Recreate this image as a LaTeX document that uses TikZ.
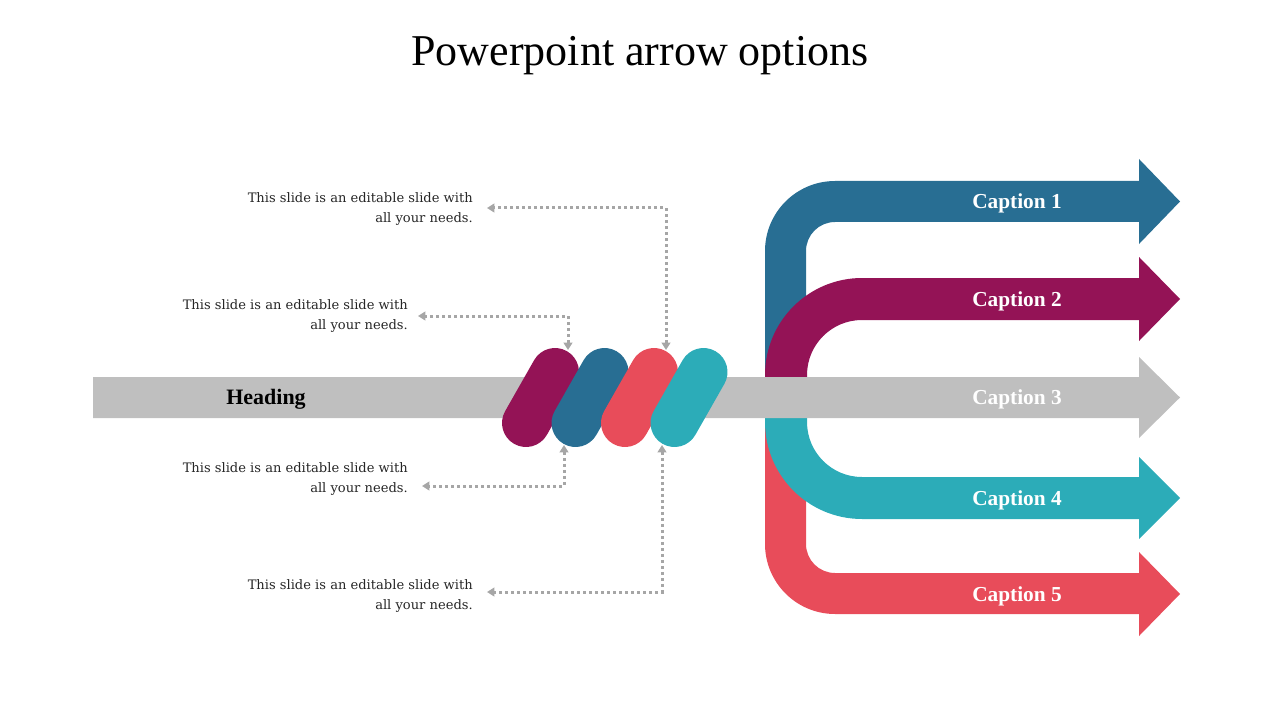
\documentclass[tikz,border=0pt]{standalone}
\usepackage{fontspec}
\setmainfont{Liberation Serif}
\newfontfamily\bodyfont{DejaVu Serif}
\usetikzlibrary{arrows.meta}
\definecolor{cblue}{HTML}{286E93}
\definecolor{cmag}{HTML}{941356}
\definecolor{cred}{HTML}{E84C5A}
\definecolor{cteal}{HTML}{2CACB8}
\definecolor{cgray}{HTML}{BFBFBF}
\definecolor{cdot}{HTML}{A6A6A6}
\begin{document}
\begin{tikzpicture}[x=0.75pt,y=-0.75pt,
  pill/.style={line width=36pt,line cap=round},
  conn/.style={cdot,line width=2.25pt,dash pattern=on 2.25pt off 2.25pt,
    {Triangle[length=5.5pt,width=6.5pt]}-{Triangle[length=5.5pt,width=6.5pt]}},
  body/.style={anchor=east,align=right,inner sep=0pt,text=black!85,
    font=\bodyfont\fontsize{9.8}{15}\selectfont},
  captxt/.style={text=white,font=\bfseries\fontsize{16}{18}\selectfont},
]
\useasboundingbox (0,0) rectangle (1280,720);

% title
\node[anchor=base,font=\fontsize{33}{36}\selectfont] (title) at (640,66) {Powerpoint arrow options};

% caption 1 (blue)
\fill[cblue] (765,400) -- (765,251) arc[start angle=180,end angle=270,radius=70]
  -- (1139,181) -- (1139,159) -- (1180,201.5) -- (1139,244) -- (1139,222)
  -- (835,222) arc[start angle=270,end angle=180,radius=29] -- (806,400) -- cycle;
% caption 5 (red)
\fill[cred] (765,400) -- (765,544) arc[start angle=180,end angle=90,radius=70]
  -- (1139,614) -- (1139,636) -- (1180,594) -- (1139,552) -- (1139,573)
  -- (835,573) arc[start angle=90,end angle=180,radius=29] -- (806,400) -- cycle;
% caption 2 (magenta)
\fill[cmag] (765,400) -- (765,375) arc[start angle=180,end angle=270,radius=97]
  -- (1139,278) -- (1139,257) -- (1180,299) -- (1139,341) -- (1139,320)
  -- (862,320) arc[start angle=270,end angle=180,radius=55] -- (807,400) -- cycle;
% caption 4 (teal)
\fill[cteal] (765,400) -- (765,422) arc[start angle=180,end angle=90,radius=97]
  -- (1139,519) -- (1139,539) -- (1180,498) -- (1139,457) -- (1139,477)
  -- (862,477) arc[start angle=90,end angle=180,radius=55] -- (807,400) -- cycle;
% main gray arrow (caption 3)
\fill[cgray] (93,377) -- (1139,377) -- (1139,357) -- (1180,397.5) -- (1139,438)
  -- (1139,418) -- (93,418) -- cycle;

% captions
\node[captxt] (c1) at (1017,203.5) {Caption 1};
\node[captxt] (c2) at (1017,301) {Caption 2};
\node[captxt] (c3) at (1017,399.5) {Caption 3};
\node[captxt] (c4) at (1017,500) {Caption 4};
\node[captxt] (c5) at (1017,596) {Caption 5};
\node[font=\bfseries\fontsize{16.5}{18}\selectfont] (heading) at (266,399.5) {Heading};

% pills
\foreach \k/\c in {0/cmag,1/cblue,2/cred,3/cteal}{
  \draw[pill,\c] ({526+49.5*\k},423) -- ({555+49.5*\k},372);
}

% attachment points
\coordinate (p1t) at (568,350);
\coordinate (p3t) at (666,350);
\coordinate (p2b) at (564,445);
\coordinate (p4b) at (662,445);

% texts
\node[body] (t1) at (473,209) {This slide is an editable slide with\\all your needs.};
\node[body] (t2) at (408,316) {This slide is an editable slide with\\all your needs.};
\node[body] (t3) at (408,479) {This slide is an editable slide with\\all your needs.};
\node[body] (t4) at (473,596) {This slide is an editable slide with\\all your needs.};

\coordinate (e1) at (487,208);
\coordinate (e2) at (418,316);
\coordinate (e3) at (422,486);
\coordinate (e4) at (487,592);

% connectors
\draw[conn] (p3t) |- (e1);
\draw[conn] (p1t) |- (e2);
\draw[conn] (p2b) |- (e3);
\draw[conn] (p4b) |- (e4);
\end{tikzpicture}
\end{document}
